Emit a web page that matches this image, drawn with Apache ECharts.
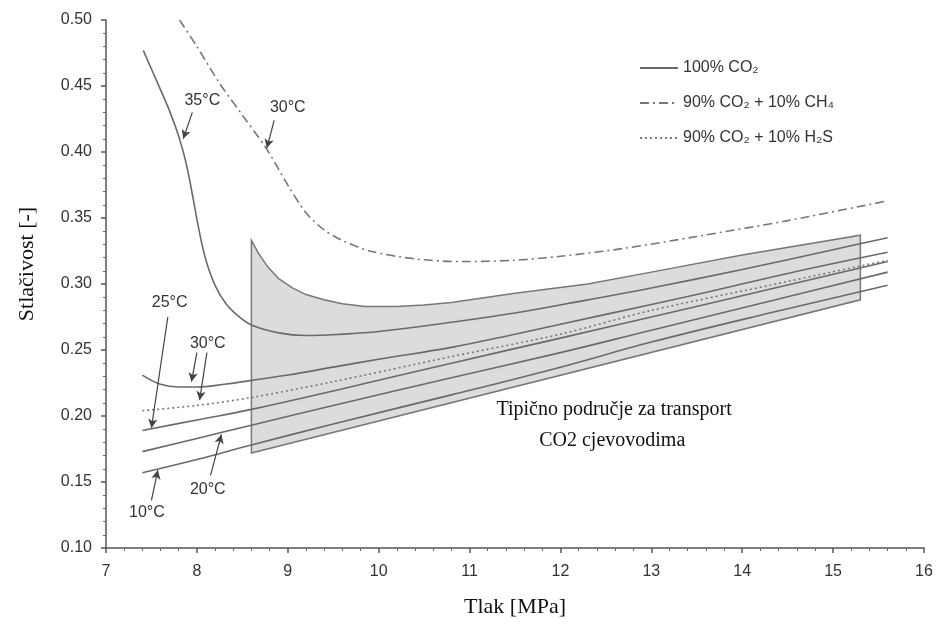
<!DOCTYPE html>
<html>
<head>
<meta charset="utf-8">
<script src="https://cdn.jsdelivr.net/npm/echarts@6/dist/echarts.min.js"></script>
<style>
  html, body { margin: 0; padding: 0; background: #fff; }
  #main { width: 938px; height: 626px; }
</style>
</head>
<body>
<div id="main"></div>
<script>
// 100% CO2 krivulje po temperaturi [tlak MPa, stlačivost]
const co2_35 = [[7.41, 0.477], [7.55, 0.455], [7.7, 0.431], [7.8, 0.412], [7.88, 0.392], [7.95, 0.368], [8.02, 0.342],
  [8.1, 0.318], [8.2, 0.299], [8.32, 0.285], [8.45, 0.276], [8.6, 0.269], [8.9, 0.263], [9.2, 0.261], [9.6, 0.262],
  [10.0, 0.264], [10.8, 0.271], [11.5, 0.278], [12.3, 0.288], [13.0, 0.297], [14.0, 0.311], [15.0, 0.326], [15.6, 0.335]]
const co2_30 = [[7.4, 0.231], [7.6, 0.224], [7.8, 0.222], [8.0, 0.222], [8.3, 0.224], [8.6, 0.227], [9.0, 0.231],
  [9.5, 0.237], [10.0, 0.243], [10.8, 0.252], [11.5, 0.262], [12.5, 0.277], [13.5, 0.292], [14.5, 0.308], [15.6, 0.324]]
const co2_25 = [[7.4, 0.189], [8.0, 0.197], [8.6, 0.205], [9.5, 0.219], [10.8, 0.240], [12.0, 0.259], [13.0, 0.275], [14.3, 0.296], [15.6, 0.317]]
const co2_20 = [[7.4, 0.173], [8.0, 0.183], [8.6, 0.193], [9.5, 0.208], [10.8, 0.229], [12.0, 0.248], [13.0, 0.265], [14.3, 0.287], [15.6, 0.309]]
const co2_10 = [[7.4, 0.157], [8.0, 0.167], [8.6, 0.178], [9.5, 0.194], [10.8, 0.216], [12.0, 0.237], [13.0, 0.256], [14.3, 0.278], [15.6, 0.299]]
// 90% CO2 + 10% CH4 (30°C)
const ch4_30 = [[7.81, 0.500], [8.0, 0.480], [8.25, 0.452], [8.5, 0.428], [8.77, 0.402], [9.0, 0.375], [9.2, 0.354],
  [9.4, 0.341], [9.6, 0.333], [9.9, 0.325], [10.4, 0.319], [10.9, 0.317], [11.5, 0.318], [12.0, 0.321],
  [12.7, 0.327], [13.5, 0.336], [14.5, 0.348], [15.6, 0.363]]
// 90% CO2 + 10% H2S
const h2s = [[7.4, 0.204], [8.0, 0.208], [8.6, 0.214], [9.5, 0.226], [10.8, 0.245], [12.0, 0.262], [13.0, 0.280], [14.3, 0.299], [15.6, 0.318]]

// tipično područje za transport
const regionTop = [[8.6, 0.333], [8.68, 0.323], [8.78, 0.313], [8.9, 0.304], [9.05, 0.297], [9.2, 0.292], [9.4, 0.288],
  [9.6, 0.285], [9.85, 0.283], [10.2, 0.283], [10.5, 0.284], [10.8, 0.286], [11.5, 0.293], [12.3, 0.300],
  [13.0, 0.309], [14.0, 0.322], [15.3, 0.337]]
const regionBottom = [[15.3, 0.288], [8.6, 0.172]]

// oznake temperatura [x, y, tekst]
const tempLabels = [[8.06, 0.439, '35°C'], [9.0, 0.434, '30°C'], [7.70, 0.286, '25°C'],
  [8.12, 0.255, '30°C'], [8.12, 0.144, '20°C'], [7.45, 0.127, '10°C']]
// strelice [x1, y1, x2, y2]
const arrows = [[7.95, 0.430, 7.85, 0.410], [8.85, 0.424, 8.77, 0.403], [7.68, 0.275, 7.50, 0.191],
  [8.00, 0.248, 7.94, 0.226], [8.11, 0.248, 8.03, 0.212], [8.15, 0.155, 8.27, 0.186], [7.50, 0.136, 7.57, 0.159]]
const regionText = [[12.59, 0.205, 'Tipično područje za transport'], [12.57, 0.181, 'CO2 cjevovodima']]

const names = ['100% CO₂', '90% CO₂ + 10% CH₄', '90% CO₂ + 10% H₂S']

const lineColor = '#6a6a6a'
const sans = 'Liberation Sans'
const serif = 'Liberation Serif'

const chart = echarts.init(document.getElementById('main'))

function co2Line (data, extra) {
  return Object.assign({
    name: names[0],
    type: 'line',
    data: data,
    smooth: 0.4,
    symbol: 'none',
    z: 3,
    lineStyle: { color: lineColor, width: 1.6 },
    itemStyle: { color: lineColor }
  }, extra || {})
}

const option = {
  animation: false,
  grid: { left: 106, right: 14, top: 20, bottom: 78, containLabel: false, outerBoundsMode: 'none' },
  legend: {
    data: names,
    orient: 'vertical',
    left: 634,
    top: 55,
    itemWidth: 38,
    itemHeight: 12,
    itemGap: 19,
    itemStyle: { opacity: 0 },
    textStyle: { fontFamily: sans, fontSize: 16, color: '#333' }
  },
  xAxis: {
    type: 'value',
    min: 7,
    max: 16,
    interval: 1,
    name: 'Tlak [MPa]',
    nameLocation: 'middle',
    nameGap: 48,
    nameTextStyle: { fontFamily: serif, fontSize: 22, color: '#111' },
    axisLine: { lineStyle: { color: '#555', width: 1.5 } },
    axisTick: { length: 5, lineStyle: { color: '#555', width: 1.5 } },
    minorTick: { show: true, splitNumber: 5, length: 3, lineStyle: { color: '#666' } },
    splitLine: { show: false },
    axisLabel: { fontFamily: sans, fontSize: 16, color: '#333', margin: 16 }
  },
  yAxis: {
    type: 'value',
    min: 0.1,
    max: 0.5,
    interval: 0.05,
    name: 'Stlačivost [-]',
    nameLocation: 'middle',
    nameGap: 68,
    nameTextStyle: { fontFamily: serif, fontSize: 22, color: '#111', padding: [0, 0, 0, 40] },
    axisLine: { show: true, lineStyle: { color: '#555', width: 1.5 } },
    axisTick: { show: true, length: 5, lineStyle: { color: '#555', width: 1.5 } },
    minorTick: { show: true, splitNumber: 5, length: 3, lineStyle: { color: '#666' } },
    splitLine: { show: false },
    axisLabel: { fontFamily: sans, fontSize: 16, color: '#333', margin: 14, formatter: v => v.toFixed(2) }
  },
  series: [
    {
      name: 'region',
      type: 'custom',
      z: 1,
      silent: true,
      data: [regionTop[0]],
      renderItem: function (params, api) {
        const pts = regionTop.concat(regionBottom).map(p => api.coord(p))
        return {
          type: 'polygon',
          shape: { points: pts },
          style: { fill: '#dcdcdc', stroke: '#777', lineWidth: 1.5 }
        }
      }
    },
    co2Line(co2_35, {
      markLine: {
        silent: true,
        animation: false,
        symbol: ['none', 'arrow'],
        symbolSize: [7, 9],
        label: { show: false },
        lineStyle: { color: '#444', width: 1.2, type: 'solid' },
        data: arrows.map(a => [{ coord: [a[0], a[1]] }, { coord: [a[2], a[3]] }])
      }
    }),
    co2Line(co2_30),
    co2Line(co2_25),
    co2Line(co2_20),
    co2Line(co2_10),
    {
      name: names[1],
      type: 'line',
      data: ch4_30,
      smooth: 0.3,
      symbol: 'none',
      z: 3,
      lineStyle: { color: '#777', width: 1.6, type: [9, 4, 2, 4] },
      itemStyle: { color: '#777' }
    },
    {
      name: names[2],
      type: 'line',
      data: h2s,
      smooth: 0.3,
      symbol: 'none',
      z: 3,
      lineStyle: { color: '#777', width: 1.6, type: [2, 3] },
      itemStyle: { color: '#777' }
    },
    {
      name: 'temps',
      type: 'custom',
      z: 4,
      silent: true,
      data: tempLabels.map(t => [t[0], t[1]]),
      renderItem: function (params, api) {
        const p = api.coord([api.value(0), api.value(1)])
        return {
          type: 'text',
          x: p[0],
          y: p[1],
          style: {
            text: tempLabels[params.dataIndex][2],
            fill: '#333',
            font: '16px "' + sans + '"',
            align: 'center',
            verticalAlign: 'middle'
          }
        }
      }
    },
    {
      name: 'regionText',
      type: 'custom',
      z: 4,
      silent: true,
      data: regionText.map(t => [t[0], t[1]]),
      renderItem: function (params, api) {
        const p = api.coord([api.value(0), api.value(1)])
        return {
          type: 'text',
          x: p[0],
          y: p[1],
          style: {
            text: regionText[params.dataIndex][2],
            fill: '#111',
            font: '20px "' + serif + '"',
            align: 'center',
            verticalAlign: 'middle'
          }
        }
      }
    }
  ]
}

chart.setOption(option)
</script>
</body>
</html>
